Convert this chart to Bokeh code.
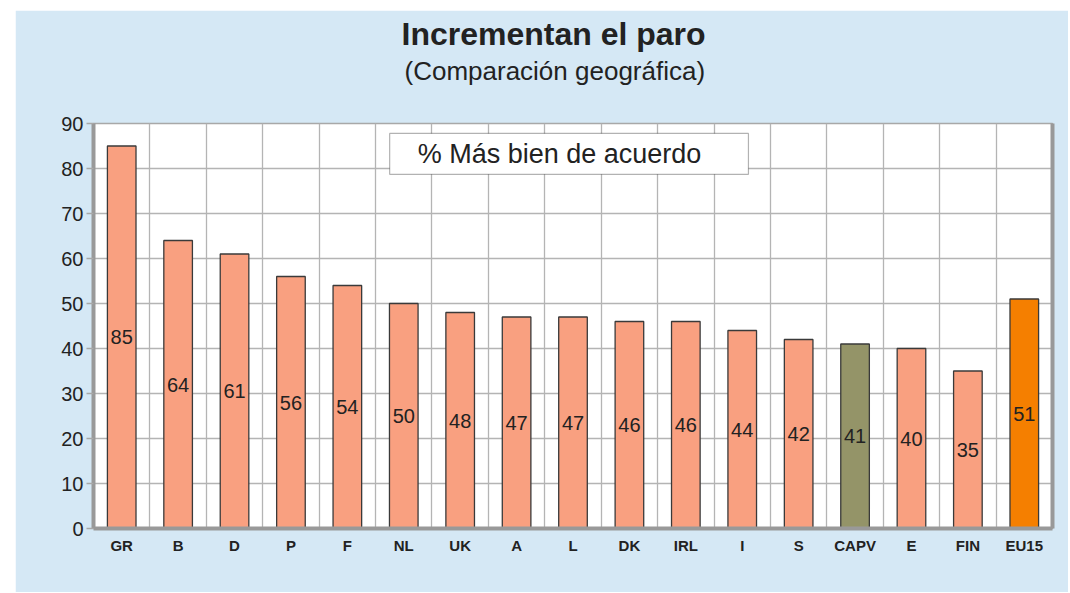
from bokeh.plotting import figure
from bokeh.models import (ColumnDataSource, FixedTicker, Grid, LinearAxis, Range1d,
                          Label, BoxAnnotation, LabelSet, Title, Spacer)
from bokeh.layouts import column, row
from bokeh.embed import file_html
from bokeh.resources import INLINE
from bokeh.core.properties import value

# ---- data ----
categories = ["GR", "B", "D", "P", "F", "NL", "UK", "A", "L", "DK", "IRL", "I", "S",
              "CAPV", "E", "FIN", "EU15"]
values = [85, 64, 61, 56, 54, 50, 48, 47, 47, 46, 46, 44, 42, 41, 40, 35, 51]
title_text = "Incrementan el paro"
subtitle_text = "(Comparación geográfica)"
legend_text = "% Más bien de acuerdo"
y_ticks = [0, 10, 20, 30, 40, 50, 60, 70, 80, 90]

SALMON = "#F9A080"
OLIVE = "#949468"
ORANGE = "#F57F00"
colors = [OLIVE if c == "CAPV" else ORANGE if c == "EU15" else SALMON for c in categories]

n = len(categories)
xs = [i + 0.5 for i in range(n)]
src = ColumnDataSource(dict(x=xs, top=values, color=colors,
                            mid=[v / 2 for v in values],
                            lab=[str(v) for v in values]))

FONT = "Liberation Sans"
BG = "#D5E8F5"
AXIS_GRAY = "#999999"

p = figure(width=1053, height=582, output_backend="svg", toolbar_location=None,
           x_range=Range1d(0, n), y_range=Range1d(0, 90),
           min_border_left=78, min_border_right=16, min_border_top=113, min_border_bottom=64)
p.border_fill_color = BG
p.background_fill_color = "white"
p.outline_line_color = "#a8a8a8"
p.outline_line_width = 1.5

p.vbar(x="x", top="top", bottom=0, width=0.507, source=src, fill_color="color",
       line_color="#3a3a3a", line_width=1.3)

labels = LabelSet(x="x", y="mid", text="lab", source=src, text_align="center",
                  text_baseline="middle", text_font=value(FONT), text_font_size="20px",
                  text_color="#222222")
p.add_layout(labels)

# axes
p.xgrid.visible = False
p.ygrid.ticker = FixedTicker(ticks=y_ticks)
p.ygrid.grid_line_color = "#b4b4b4"
p.ygrid.grid_line_width = 1.3
vgrid = Grid(dimension=0, ticker=FixedTicker(ticks=list(range(1, n))),
             grid_line_color="#b4b4b4", grid_line_width=1.3)
p.add_layout(vgrid)

xa = p.xaxis[0]
xa.ticker = FixedTicker(ticks=xs)
xa.major_label_overrides = {x: c for x, c in zip(xs, categories)}
xa.major_tick_line_color = None
xa.minor_tick_line_color = None
xa.axis_line_color = AXIS_GRAY
xa.axis_line_width = 4
xa.major_label_text_font = FONT
xa.major_label_text_font_style = "bold"
xa.major_label_text_font_size = "15px"
xa.major_label_text_color = "#222222"
xa.major_label_standoff = 2

ya = p.yaxis[0]
ya.ticker = FixedTicker(ticks=y_ticks)
ya.minor_tick_line_color = None
ya.major_tick_in = 0
ya.major_tick_out = 7
ya.major_tick_line_color = "#a8a8a8"
ya.major_tick_line_width = 1.3
ya.axis_line_color = AXIS_GRAY
ya.axis_line_width = 4
ya.major_label_text_font = FONT
ya.major_label_text_font_size = "20px"
ya.major_label_text_color = "#222222"
ya.major_label_standoff = 3

ra = LinearAxis(ticker=FixedTicker(ticks=[]), axis_line_color=AXIS_GRAY, axis_line_width=4,
                major_tick_line_color=None, minor_tick_line_color=None,
                major_label_text_font_size="0px")
p.add_layout(ra, "right")

# spacer between the frame and the subtitle (an axis with an invisible tick only)
gap_axis = LinearAxis(ticker=FixedTicker(ticks=[0.5]), axis_line_color=None,
                      major_tick_line_color=None, minor_tick_line_color=None,
                      major_tick_in=0, major_tick_out=36, major_label_standoff=0,
                      major_label_overrides={0.5: ""}, major_label_text_font_size="0px")
p.add_layout(gap_axis, "above")

# titles (later added = farther from the frame)
p.add_layout(Title(text=subtitle_text, align="left", offset=311, standoff=4,
                   text_font=FONT, text_font_style="normal", text_font_size="26px",
                   text_color="#222222"), "above")
p.add_layout(Title(text=title_text, align="left", offset=308, standoff=0,
                   text_font=FONT, text_font_style="bold", text_font_size="32px",
                   text_color="#222222"), "above")

# legend box
p.add_layout(BoxAnnotation(left=5.25, right=11.61, bottom=78.7, top=87.8,
                           fill_color="white", fill_alpha=1.0,
                           line_color="black", line_width=1.2))
p.add_layout(Label(x=5.25, y=83.25, x_offset=28, text=legend_text, text_align="left",
                   text_baseline="middle", text_font=FONT, text_font_size="27px",
                   text_color="#222222"))

layout = column(Spacer(height=10), row(Spacer(width=15), p))
open("out.html", "w").write(file_html(layout, INLINE))
